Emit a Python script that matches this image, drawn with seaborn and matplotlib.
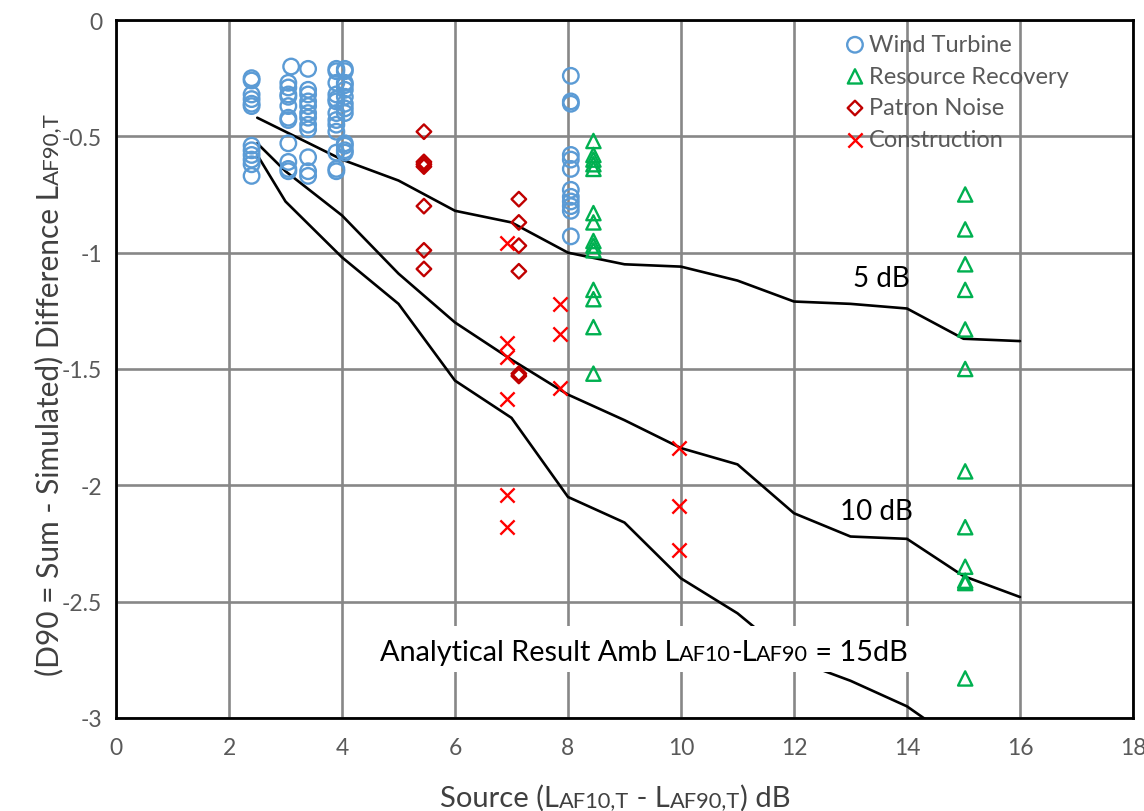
import numpy as np
import pandas as pd
import matplotlib
matplotlib.use("Agg")
import matplotlib.pyplot as plt
import seaborn as sns
from matplotlib.transforms import IdentityTransform
from matplotlib.patches import Rectangle

# ---------------- data ----------------
wind_cols_x = [2.4, 3.05, 3.1, 3.4, 3.9, 4.05, 8.05]
wind_cols_y = [
    [-0.25, -0.26, -0.32, -0.34, -0.36, -0.37, -0.54, -0.56, -0.58, -0.60, -0.62, -0.67],
    [-0.27, -0.29, -0.32, -0.33, -0.37, -0.42, -0.43, -0.53, -0.61, -0.64, -0.65],
    [-0.20],
    [-0.21, -0.30, -0.32, -0.35, -0.37, -0.40, -0.42, -0.45, -0.47, -0.59, -0.65, -0.67],
    [-0.21, -0.22, -0.27, -0.32, -0.34, -0.35, -0.40, -0.43, -0.45, -0.48, -0.57, -0.64, -0.65],
    [-0.21, -0.22, -0.27, -0.28, -0.30, -0.33, -0.36, -0.38, -0.40, -0.53, -0.54, -0.56, -0.57],
    [-0.24, -0.35, -0.36, -0.58, -0.60, -0.64, -0.73, -0.76, -0.78, -0.80, -0.82, -0.93],
]
resource_cols_x = [8.45, 15.03]
resource_cols_y = [
    [-0.52, -0.58, -0.60, -0.62, -0.64, -0.83, -0.87, -0.95, -0.97, -0.99, -1.16, -1.20, -1.32, -1.52],
    [-0.75, -0.90, -1.05, -1.16, -1.33, -1.50, -1.94, -2.18, -2.35, -2.41, -2.42, -2.83],
]
patron_cols_x = [5.45, 7.13]
patron_cols_y = [
    [-0.48, -0.61, -0.62, -0.63, -0.80, -0.99, -1.07],
    [-0.77, -0.87, -0.97, -1.08, -1.52, -1.53],
]
construction_cols_x = [6.92, 7.86, 9.96]
construction_cols_y = [
    [-0.96, -1.39, -1.45, -1.63, -2.04, -2.18],
    [-1.22, -1.35, -1.58],
    [-1.84, -2.09, -2.28],
]

curve5_x = [2.5, 4, 5, 6, 7, 8, 9, 10, 11, 12, 13, 14, 15, 16]
curve5_y = [-0.42, -0.60, -0.69, -0.82, -0.87, -1.00, -1.05, -1.06, -1.12, -1.21, -1.22, -1.24, -1.37, -1.38]
curve10_x = [2.5, 3, 4, 5, 6, 7, 8, 9, 10, 11, 12, 13, 14, 15, 16]
curve10_y = [-0.53, -0.65, -0.84, -1.09, -1.30, -1.46, -1.61, -1.72, -1.84, -1.91, -2.12, -2.22, -2.23, -2.39, -2.48]
curve15_x = [2.5, 3, 4, 5, 6, 7, 8, 9, 10, 11, 12, 13, 14, 15]
curve15_y = [-0.58, -0.78, -1.02, -1.22, -1.55, -1.71, -2.05, -2.16, -2.40, -2.55, -2.75, -2.84, -2.95, -3.12]

series_names = ["Wind Turbine", "Resource Recovery", "Patron Noise", "Construction"]
series_colors = ["#5B9BD5", "#00B050", "#C00000", "#FF0000"]
series_markers = ["o", "^", "D", "x"]
series_sizes = [125, 105, 55, 105]

x_ticks = [0, 2, 4, 6, 8, 10, 12, 14, 16, 18]
y_ticks = [0, -0.5, -1, -1.5, -2, -2.5, -3]
y_tick_labels = ["0", "-0.5", "-1", "-1.5", "-2", "-2.5", "-3"]

# ---------------- build frames ----------------
def cols_to_df(xs, ys, name):
    rows = []
    for xv, yl in zip(xs, ys):
        for yv in yl:
            rows.append((xv, yv, name))
    return pd.DataFrame(rows, columns=["src", "diff", "series"])

pts = pd.concat([
    cols_to_df(wind_cols_x, wind_cols_y, series_names[0]),
    cols_to_df(resource_cols_x, resource_cols_y, series_names[1]),
    cols_to_df(patron_cols_x, patron_cols_y, series_names[2]),
    cols_to_df(construction_cols_x, construction_cols_y, series_names[3]),
], ignore_index=True)

curves = pd.concat([
    pd.DataFrame({"src": curve5_x, "diff": curve5_y, "amb": "5 dB"}),
    pd.DataFrame({"src": curve10_x, "diff": curve10_y, "amb": "10 dB"}),
    pd.DataFrame({"src": curve15_x, "diff": curve15_y, "amb": "15 dB"}),
], ignore_index=True)

# ---------------- figure ----------------
sns.set_theme(style="white")
FONT = "Lato"
plt.rcParams["font.family"] = [FONT, "DejaVu Sans"]

W, H = 1144, 812
fig = plt.figure(figsize=(W / 100, H / 100), dpi=100)
L, R, T, B = 116, 1133, 21, 719
ax = fig.add_axes([L / W, 1 - B / H, (R - L) / W, (B - T) / H])

for amb in ["5 dB", "10 dB", "15 dB"]:
    sub = curves[curves["amb"] == amb]
    sns.lineplot(data=sub, x="src", y="diff", color="black", lw=1.9, ax=ax,
                 sort=False, estimator=None, legend=False, zorder=2)

for name, col, mk, sz in zip(series_names, series_colors, series_markers, series_sizes):
    sub = pts[pts["series"] == name]
    if mk == "x":
        sns.scatterplot(data=sub, x="src", y="diff", marker=mk, s=sz, color=col,
                        linewidth=1.7, ax=ax, label=name, zorder=4)
    else:
        sns.scatterplot(data=sub, x="src", y="diff", marker=mk, s=sz, color=col,
                        facecolor="none", edgecolor=col, linewidth=1.7, ax=ax,
                        label=name, zorder=4)

ax.set_xlim(0, 18)
ax.set_ylim(-3, 0)
ax.set_xticks(x_ticks)
ax.set_yticks(y_ticks)
ax.set_yticklabels(y_tick_labels)
ax.grid(True, color="#878787", lw=1.9, zorder=0)
ax.set_axisbelow(True)
ax.tick_params(length=0, labelsize=16.5, labelcolor="#595959", pad=10)
ax.tick_params(axis="x", pad=14)
for s in ax.spines.values():
    s.set_color("black")
    s.set_linewidth(2)
ax.set_xlabel("")
ax.set_ylabel("")

leg = ax.legend(loc="upper left", bbox_to_anchor=(0.715, 0.980), frameon=False,
                fontsize=17, handletextpad=0.1, labelspacing=0.45,
                borderaxespad=0, borderpad=0, handlelength=1.0)
for t in leg.get_texts():
    t.set_color("#595959")

# curve labels
ax.text(13.55, -1.11, "5 dB", fontsize=20, color="black", ha="center", va="center", zorder=5)
ax.text(13.46, -2.11, "10 dB", fontsize=20, color="black", ha="center", va="center", zorder=5)

# ---------------- rich text helpers ----------------
fig.canvas.draw()
renderer = fig.canvas.get_renderer()

def measure(s, size):
    t1 = fig.text(0, 0, "|" + s + "|", fontsize=size)
    t2 = fig.text(0, 0, "||", fontsize=size)
    w = t1.get_window_extent(renderer).width - t2.get_window_extent(renderer).width
    t1.remove(); t2.remove()
    return w

def rich(parts, base, cx, cy, rotation=0, color="black", target=None, zorder=5):
    target = target or fig
    widths = [measure(s, base * f) for s, f in parts]
    total = sum(widths)
    pos = (cx if rotation == 0 else cy) - total / 2
    for (s, f), w in zip(parts, widths):
        xy = (pos, cy) if rotation == 0 else (cx, pos)
        target.text(xy[0], xy[1], s, fontsize=base * f, color=color,
                    transform=IdentityTransform(), ha="left", va="baseline",
                    rotation=rotation, rotation_mode="anchor", zorder=zorder)
        pos += w
    return total

# x label
rich([("Source (L", 1), ("AF10,T", 0.75), (" - L", 1), ("AF90,T", 0.75), (") dB", 1)],
     21, 615, H - 807, color="#404040")
# y label
rich([("(D90 = Sum - Simulated) Difference L", 1), ("AF90,T", 0.75)],
     21.5, 58, H - 395, rotation=90, color="#404040")

# annotation with white box
tot = rich([("Analytical Result Amb L", 1), ("AF10", 0.75), ("-L", 1), ("AF90", 0.75), (" = 15dB", 1)],
           20.8, 644, H - 661, color="black", target=ax, zorder=6)
x0 = 644 - tot / 2
ax.add_patch(Rectangle((x0 - 8, H - 673), tot + 16, 46, transform=IdentityTransform(),
                       facecolor="white", edgecolor="none", zorder=3))

fig.savefig("out.png", dpi=100)
